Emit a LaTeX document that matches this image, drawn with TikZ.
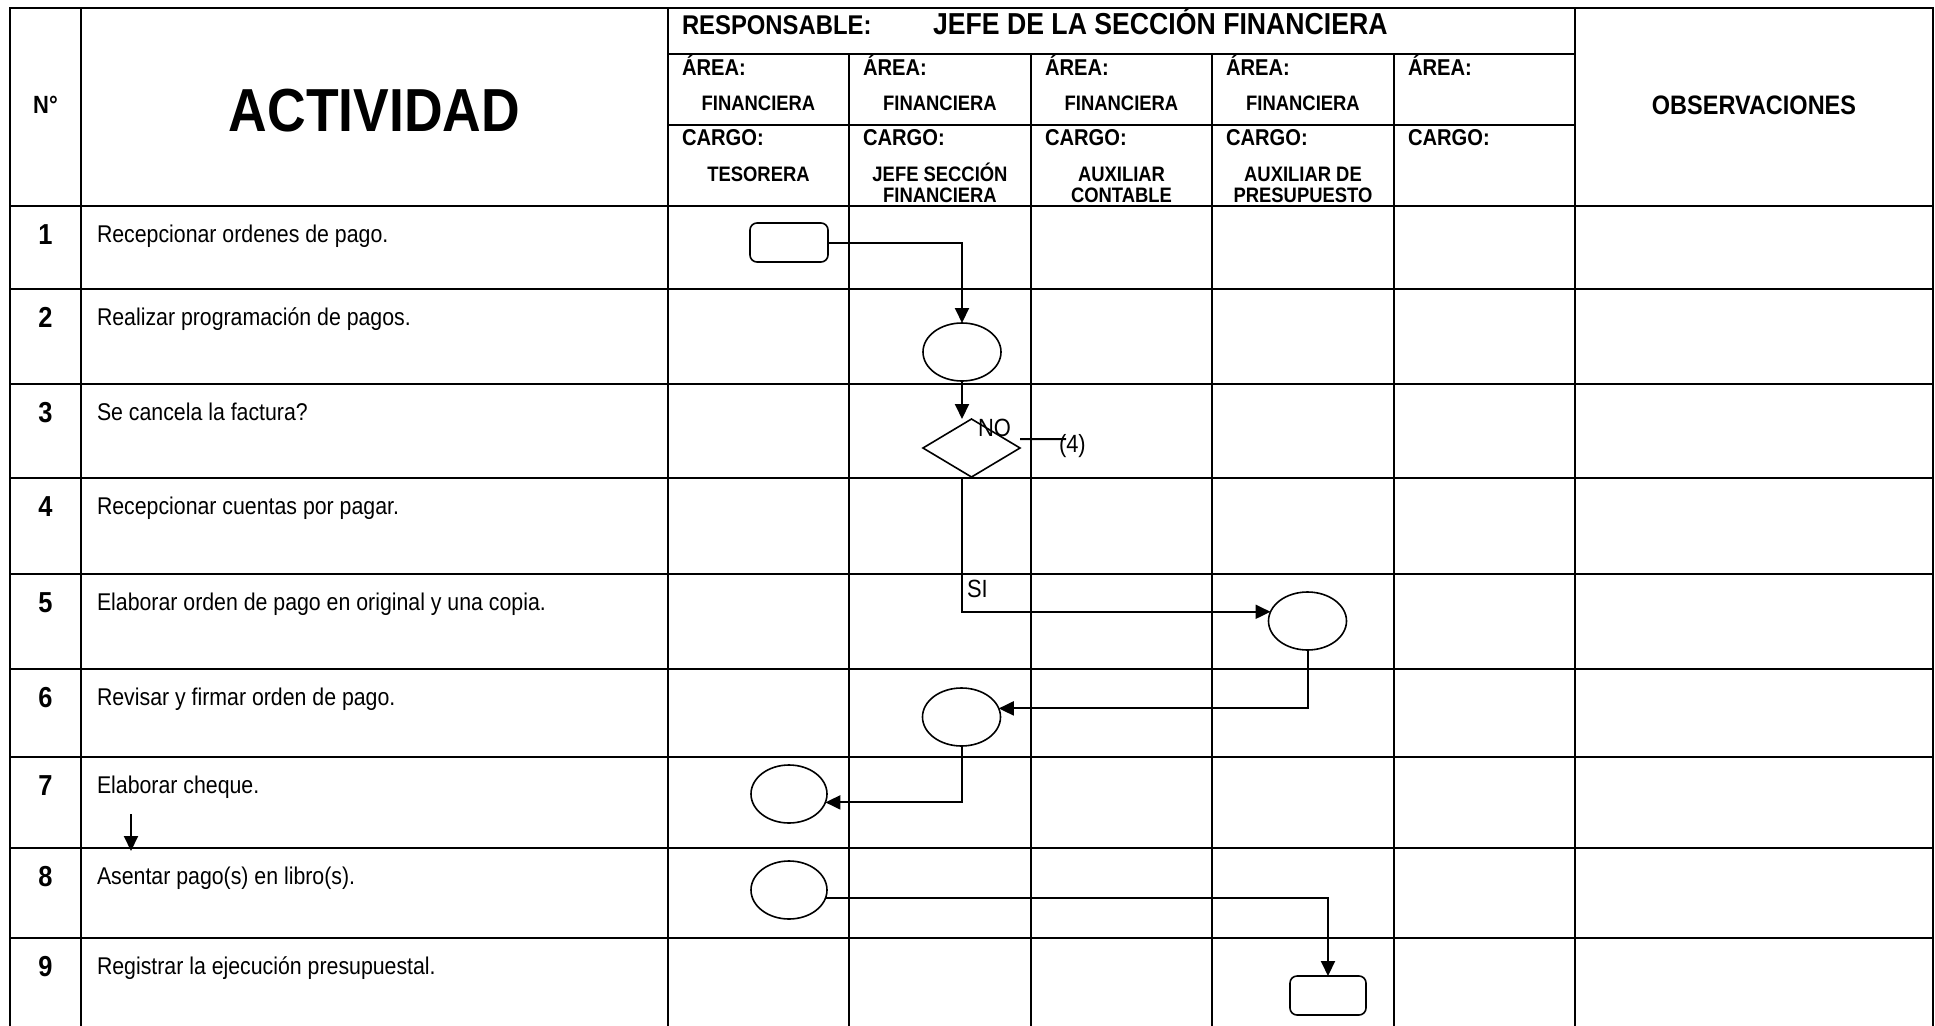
\documentclass[tikz,border=0pt]{standalone}
\usepackage{fontspec}
\setmainfont{Liberation Sans}[FakeStretch=0.88]
\usetikzlibrary{arrows.meta,shapes.geometric}
\newcommand\setfs[1]{\fontsize{#1}{#1}\selectfont}
\begin{document}
\begin{tikzpicture}[x=1bp,y=-1bp,
  grid/.style={line width=2.4bp, line cap=rect},
  txt/.style={inner sep=0pt, outer sep=0pt},
  head/.style={txt, font=\bfseries\setfs{23}},
  small/.style={txt, anchor=base, font=\bfseries\setfs{21}},
  rownum/.style={txt, anchor=base, font=\bfseries\setfs{29}},
  rowtext/.style={txt, anchor=base west, font=\setfs{24.3}},
  flowlbl/.style={txt, anchor=base west, font=\setfs{25}},
  shapeline/.style={draw, line width=1.6bp, inner sep=0pt, outer sep=0pt},
  proc/.style={shapeline, ellipse, minimum width=78bp, minimum height=58bp},
  terminal/.style={shapeline, rectangle, rounded corners=7bp, minimum width=78bp, minimum height=39bp},
  decision/.style={shapeline, diamond, minimum width=97bp, minimum height=58bp},
  conn/.style={line width=2bp},
  arr/.style={conn, -{Triangle[length=15bp,width=14bp]}}
]
\useasboundingbox (0,0) rectangle (1935,1025);

% ---- table frame and rules ----
\draw[grid, line join=miter] (10,1025) -- (10,8) -- (1933,8) -- (1933,1025);
\foreach \x in {81,668,1575} \draw[grid] (\x,8) -- (\x,1025);
\foreach \x in {849,1031,1212,1394} \draw[grid] (\x,54) -- (\x,1025);
\foreach \y in {54,125} \draw[grid] (668,\y) -- (1575,\y);
\foreach \y in {206,289,384,478,574,669,757,848,938} \draw[grid] (10,\y) -- (1933,\y);

% ---- header ----
\node[txt, font=\bfseries\setfs{25}] (hnum) at (45.5,105) {N°};
\node[txt, font=\bfseries\setfs{61}] (hact) at (374.5,111) {ACTIVIDAD};
\node[txt, font=\bfseries\setfs{26.8}] (hobs) at (1754,105) {OBSERVACIONES};
\node[txt, anchor=base west, font=\bfseries\setfs{27.2}] (hresp) at (682,34) {RESPONSABLE:};
\node[txt, anchor=base west, font=\bfseries\setfs{30.4}] (hjefe) at (933,34) {JEFE DE LA SECCIÓN FINANCIERA};

\foreach \x [count=\i] in {682,863,1045,1226,1408}{
  \node[head, anchor=base west] (area\i) at (\x,75.5) {ÁREA:};
  \node[head, anchor=base west] (cargo\i) at (\x,145.5) {CARGO:};
}
\foreach \x [count=\i] in {758.5,940,1121.5,1303}
  \node[small] (fin\i) at (\x,110) {FINANCIERA};

\node[small] (tes)  at (758.5,181) {TESORERA};
\node[small] (jefa) at (940,181)   {JEFE SECCIÓN};
\node[small] (jefb) at (940,202.5) {FINANCIERA};
\node[small] (auxa) at (1121.5,181){AUXILIAR};
\node[small] (auxb) at (1121.5,202.5){CONTABLE};
\node[small] (prea) at (1303,181)  {AUXILIAR DE};
\node[small] (preb) at (1303,202.5){PRESUPUESTO};

% ---- activity rows ----
\foreach \t/\txt [count=\i] in {
  206/Recepcionar ordenes de pago.,
  289/Realizar programación de pagos.,
  384/Se cancela la factura?,
  478/Recepcionar cuentas por pagar.,
  574/Elaborar orden de pago en original y una copia.,
  669/Revisar y firmar orden de pago.,
  757/Elaborar cheque.,
  848/Asentar pago(s) en libro(s).,
  938/Registrar la ejecución presupuestal.}{
  \node[rownum]  (n\i) at (45.5,\t+38) {\i};
  \node[rowtext] (a\i) at (97,\t+36.5) {\txt};
}

% ---- flow symbols ----
\node[terminal] (s1) at (789,242.5) {};
\node[proc]     (s2) at (962,352) {};
\node[decision] (s3) at (971.5,448) {};
\node[proc]     (s5) at (1307.5,621) {};
\node[proc]     (s6) at (961.5,717) {};
\node[proc, minimum width=76bp] (s7) at (789,794) {};
\node[proc, minimum width=76bp] (s8) at (789,890) {};
\node[terminal, minimum width=76bp] (s9) at (1328,995.5) {};

\node[flowlbl] (no)   at (978,436)   {NO};
\node[flowlbl] (four) at (1059,452)  {(4)};
\node[flowlbl] (si)   at (967,597.5) {SI};
\coordinate (noend) at (1066,439);
\coordinate (fa) at (131,814);
\coordinate (fb) at (131,851);

% ---- connectors ----
\draw[arr] (s1.east) -| (s2.north);
\draw[arr] (s2.south) -- (s2.south |- s3.north);
\draw[conn] ([yshift=9bp]s3.east) -- (noend);
\draw[arr] (s3.south -| s2.south) |- (s5.166);
\draw[arr] (s5.south) |- (s6.13);
\draw[arr] (s6.south) |- (s7.-13);
\draw[arr] (s8.-13) -| (s9.north);
\draw[arr] (fa) -- (fb);
\end{tikzpicture}
\end{document}
